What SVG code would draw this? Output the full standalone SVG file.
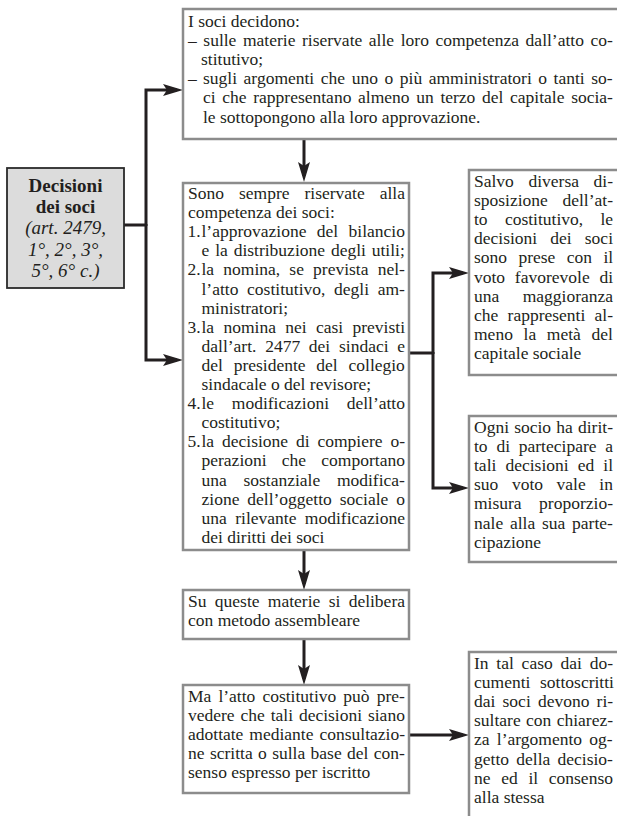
<svg xmlns="http://www.w3.org/2000/svg" width="617" height="816" viewBox="0 0 617 816">
<style>
.box{fill:#fff;stroke:#8c8c8c;stroke-width:2.5}
.main{fill:#dcdcdc;stroke:#2a2a2a;stroke-width:1.8}
text{font-family:"Liberation Serif","Times New Roman",serif;font-size:17.5px;fill:#231f20}
.lb{font-size:19px;text-anchor:middle}
.b{font-weight:bold}
.i{font-style:italic}
.c{fill:none;stroke:#231f20;stroke-width:3;marker-end:url(#ah)}
.cn{fill:none;stroke:#231f20;stroke-width:3}
</style>
<defs>
<marker id="ah" markerUnits="userSpaceOnUse" markerWidth="20" markerHeight="12" refX="14" refY="6" orient="auto">
<path d="M0,0 L20,6 L0,12 L4,6 Z" fill="#231f20"/>
</marker>
</defs>
<g id="connectors">
<path class="cn" d="M124,225 H146"/>
<path class="c" d="M146,226 V90 H177"/>
<path class="c" d="M146,224 V360 H177"/>
<path class="c" d="M304,139 V176"/>
<path class="cn" d="M409,353 H433"/>
<path class="c" d="M433,354 V273 H463"/>
<path class="c" d="M433,352 V488 H463"/>
<path class="c" d="M304,550 V584"/>
<path class="c" d="M304,639 V679"/>
<path class="c" d="M409,735 H463"/>
</g>
<g id="decisioni">
<rect class="main" x="7" y="168" width="117" height="120"/>
<text class="lb b" x="65.5" y="192">Decisioni</text>
<text class="lb b" x="65.5" y="213.2">dei soci</text>
<text class="lb i" x="65.5" y="234.4">(art. 2479,</text>
<text class="lb i" x="65.5" y="255.6">1°,  2°, 3°,</text>
<text class="lb i" x="65.5" y="276.8">5°, 6° c.)</text>
</g>
<g id="soci-decidono">
<rect class="box" x="183" y="9" width="440" height="130"/>
<text x="188" y="27">I soci decidono:</text>
<text x="188" y="46.1" word-spacing="2.21">– sulle materie riservate alle loro competenza dall’atto co-</text>
<text x="201" y="65.2">stitutivo;</text>
<text x="188" y="84.3">–</text>
<text x="203" y="84.3" word-spacing="2.19">sugli argomenti che uno o più amministratori o tanti so-</text>
<text x="203" y="103.4" word-spacing="2.29">ci che rappresentano almeno un terzo del capitale socia-</text>
<text x="203" y="122.5">le sottopongono alla loro approvazione.</text>
</g>
<g id="riservate">
<rect class="box" x="183" y="183" width="226" height="367"/>
<text x="188" y="199" word-spacing="10.6">Sono sempre riservate alla</text>
<text x="188" y="218.1">competenza dei soci:</text>
<text x="187.5" y="237.2">1.</text>
<text x="201.5" y="237.2" word-spacing="6">l’approvazione del bilancio</text>
<text x="201.5" y="256.3" word-spacing="1.5">e la distribuzione degli utili;</text>
<text x="187.5" y="275.4">2.</text>
<text x="201.5" y="275.4" word-spacing="4.8">la nomina, se prevista nel-</text>
<text x="201.5" y="294.5" word-spacing="4.3">l’atto costitutivo, degli am-</text>
<text x="201.5" y="313.6">ministratori;</text>
<text x="187.5" y="332.7">3.</text>
<text x="201.5" y="332.7" word-spacing="4.95">la nomina nei casi previsti</text>
<text x="201.5" y="351.8" word-spacing="4.35">dall’art. 2477 dei sindaci e</text>
<text x="201.5" y="370.9" word-spacing="6.4">del presidente del collegio</text>
<text x="201.5" y="390">sindacale o del revisore;</text>
<text x="187.5" y="409.1">4.</text>
<text x="201.5" y="409.1" word-spacing="13.3">le modificazioni dell’atto</text>
<text x="201.5" y="428.2">costitutivo;</text>
<text x="187.5" y="447.3">5.</text>
<text x="201.5" y="447.3" word-spacing="3.5">la decisione di compiere o-</text>
<text x="201.5" y="466.4" word-spacing="10.85">perazioni che comportano</text>
<text x="201.5" y="485.5" word-spacing="12.3">una sostanziale modifica-</text>
<text x="201.5" y="504.6" word-spacing="3.5">zione dell’oggetto sociale o</text>
<text x="201.5" y="523.7" word-spacing="4.05">una rilevante modificazione</text>
<text x="201.5" y="542.8">dei diritti dei soci</text>
</g>
<g id="maggioranza">
<rect class="box" x="469" y="170" width="154" height="205"/>
<text x="474" y="187" word-spacing="10.2">Salvo diversa di-</text>
<text x="474" y="206.1" word-spacing="10.2">sposizione dell’at-</text>
<text x="474" y="225.2" word-spacing="12.9">to costitutivo, le</text>
<text x="474" y="244.3" word-spacing="8.75">decisioni dei soci</text>
<text x="474" y="263.4" word-spacing="7">sono prese con il</text>
<text x="474" y="282.5" word-spacing="5.35">voto favorevole di</text>
<text x="474" y="301.6" word-spacing="19">una maggioranza</text>
<text x="474" y="320.7" word-spacing="4.9">che rappresenti al-</text>
<text x="474" y="339.8" word-spacing="6.3">meno la metà del</text>
<text x="474" y="358.9">capitale sociale</text>
</g>
<g id="diritto">
<rect class="box" x="469" y="416" width="154" height="146"/>
<text x="474" y="433" word-spacing="0.8">Ogni socio ha dirit-</text>
<text x="474" y="452.1" word-spacing="4.4">to di partecipare a</text>
<text x="474" y="471.2" word-spacing="4.7">tali decisioni ed il</text>
<text x="474" y="490.3" word-spacing="9.2">suo voto vale in</text>
<text x="474" y="509.4" word-spacing="13.1">misura proporzio-</text>
<text x="474" y="528.5" word-spacing="2.4">nale alla sua parte-</text>
<text x="474" y="547.6">cipazione</text>
</g>
<g id="assembleare">
<rect class="box" x="183" y="590" width="226" height="49"/>
<text x="188" y="607" word-spacing="3.95">Su queste materie si delibera</text>
<text x="188" y="626.1">con metodo assembleare</text>
</g>
<g id="consultazione">
<rect class="box" x="183" y="685" width="226" height="108"/>
<text x="188" y="702" word-spacing="2.7">Ma l’atto costitutivo può pre-</text>
<text x="188" y="721.1" word-spacing="1.5">vedere che tali decisioni siano</text>
<text x="188" y="740.2" word-spacing="1.6">adottate mediante consultazio-</text>
<text x="188" y="759.3" word-spacing="1">ne scritta o sulla base del con-</text>
<text x="188" y="778.4">senso espresso per iscritto</text>
</g>
<g id="documenti">
<rect class="box" x="469" y="652" width="154" height="180"/>
<text x="474" y="669" word-spacing="3.4">In tal caso dai do-</text>
<text x="474" y="688.1" word-spacing="5.3">cumenti sottoscritti</text>
<text x="474" y="707.2" word-spacing="2.8">dai soci devono ri-</text>
<text x="474" y="726.3" word-spacing="1">sultare con chiarez-</text>
<text x="474" y="745.4" word-spacing="2.9">za l’argomento og-</text>
<text x="474" y="764.5" word-spacing="2.9">getto della decisio-</text>
<text x="474" y="783.6" word-spacing="6.3">ne ed il consenso</text>
<text x="474" y="802.7">alla stessa</text>
</g>
</svg>
